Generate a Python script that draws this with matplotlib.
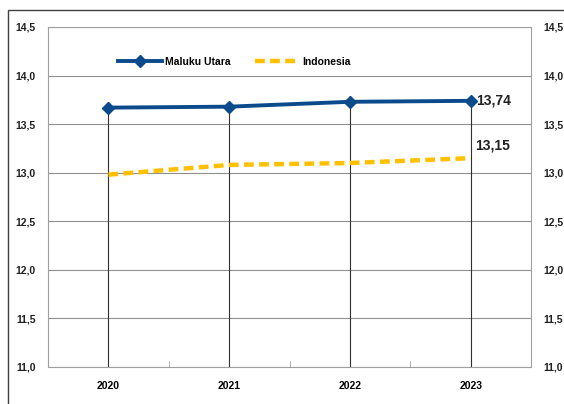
import matplotlib.pyplot as plt
from matplotlib.patches import Rectangle

# --- data ---
years = ['2020', '2021', '2022', '2023']
maluku_utara = [13.67, 13.68, 13.73, 13.74]
indonesia = [12.98, 13.08, 13.10, 13.15]
yticks = [11.0, 11.5, 12.0, 12.5, 13.0, 13.5, 14.0, 14.5]

BLUE = '#0B4A8B'
GOLD = '#FFC000'

plt.rcParams['font.family'] = ['Liberation Sans', 'DejaVu Sans']
plt.rcParams['font.weight'] = 'bold'

fig = plt.figure(figsize=(5.64, 4.04), dpi=100)
ax = fig.add_axes([48 / 564, 1 - 367 / 404, (531 - 48) / 564, (367 - 27) / 404])

# outer chart frame
fig.patches.append(Rectangle((8 / 564, -0.05), 1.1, 1.05 - 10 / 404, transform=fig.transFigure,
                             fill=False, edgecolor='#404040', linewidth=1.0))

x = range(len(years))

# drop lines from each point to the axis
for i in x:
    ax.plot([i, i], [11.0, maluku_utara[i]], color='#303030', linewidth=0.8, zorder=2)

ax.plot(x, maluku_utara, color=BLUE, linewidth=2.8, marker='D', markersize=6,
        label='Maluku Utara', zorder=4)
ax.plot(x, indonesia, color=GOLD, linewidth=3.2, linestyle=(0, (2.2, 1.2)),
        label='Indonesia', zorder=3)

ax.annotate(f'{maluku_utara[-1]:.2f}'.replace('.', ','), (3, maluku_utara[-1]),
            xytext=(4, 0), textcoords='offset points', va='center', ha='left',
            fontsize=10, color='#202020')
ax.annotate(f'{indonesia[-1]:.2f}'.replace('.', ','), (3, indonesia[-1]),
            xytext=(3, 4), textcoords='offset points', va='bottom', ha='left',
            fontsize=10, color='#202020')

ax.set_xlim(-0.5, 3.5)
ax.set_ylim(11.0, 14.5)
ax.set_xticks(list(x))
ax.set_xticklabels(years, fontsize=7.5)
ax.set_xticks([0.5, 1.5, 2.5], minor=True)
ax.tick_params(axis='x', which='major', length=0, pad=10)
ax.tick_params(axis='x', which='minor', length=4, direction='in', color='#a0a0a0')

ax.set_yticks(yticks)
ax.set_yticklabels([f'{v:.1f}'.replace('.', ',') for v in yticks], fontsize=7.5)
ax.tick_params(axis='y', length=0, pad=9, labelright=True, right=False)
for lbl in ax.yaxis.get_ticklabels(which='major'):
    lbl.set_color('#202020')
ax.grid(axis='y', color='#909090', linewidth=0.8)
ax.set_axisbelow(True)
for s in ax.spines.values():
    s.set_color('#a0a0a0')
    s.set_linewidth(0.8)

ax.legend(loc='upper left', bbox_to_anchor=(0.125, 0.94), ncol=2, frameon=False,
          fontsize=7.5, handlelength=4.2, handletextpad=0.3, columnspacing=2.4)

fig.savefig('out.png', dpi=100)
